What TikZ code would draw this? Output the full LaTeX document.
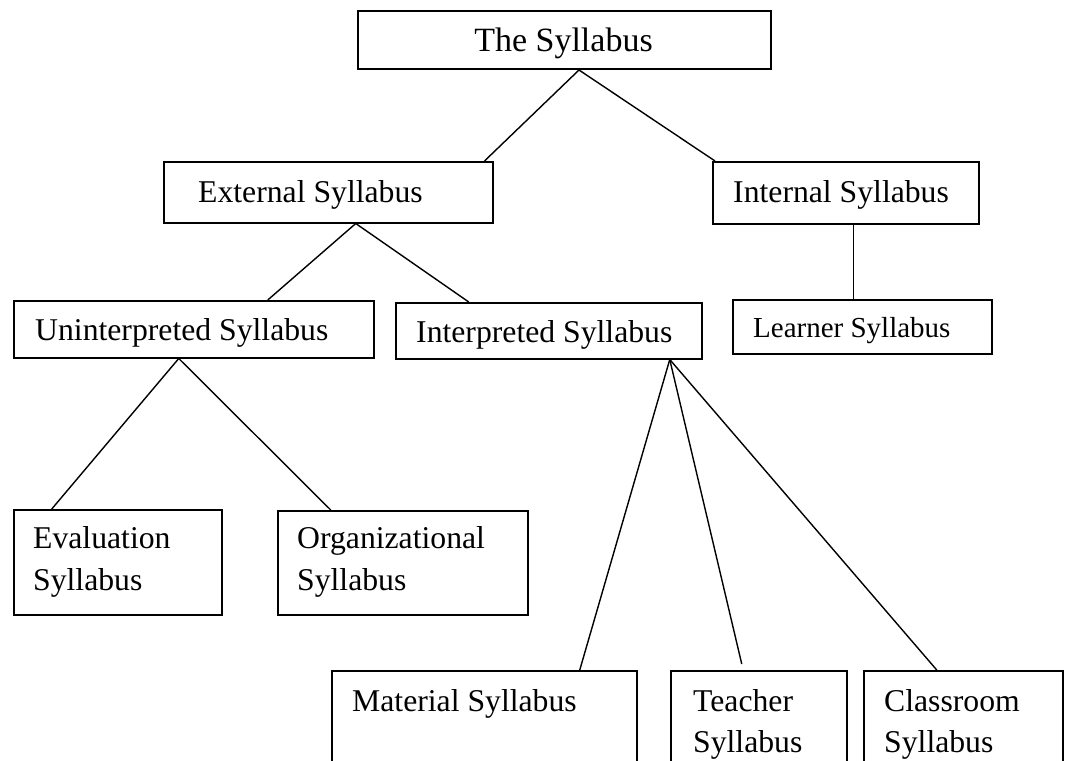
\documentclass[tikz,border=0pt]{standalone}
\usepackage{fontspec}
\setmainfont{Liberation Serif}
\begin{document}
\begin{tikzpicture}[x=1pt,y=-1pt,
  box/.style={draw, line width=1.5pt, rectangle, inner sep=0pt, anchor=north west},
  lbl/.style={inner sep=0pt, anchor=base west, font=\fontsize{31.7}{41}\selectfont},
  conn/.style={line width=1.4pt}]
\clip (0,0) rectangle (1065,760);
\fill[white] (0,0) rectangle (1065,760);
% boxes
\node[box, line width=2pt, minimum width=413pt, minimum height=58pt] (top) at (357,10) {};
\node[box, minimum width=329pt, minimum height=61pt] (ext) at (163,161) {};
\node[box, minimum width=266pt, minimum height=62pt] (int) at (712,161) {};
\node[box, minimum width=360pt, minimum height=57pt] (uni) at (13,300) {};
\node[box, minimum width=306pt, minimum height=56pt] (interp) at (395,302) {};
\node[box, minimum width=259pt, minimum height=54pt] (lrn) at (732,299) {};
\node[box, minimum width=208pt, minimum height=105pt] (eval) at (13,509) {};
\node[box, minimum width=250pt, minimum height=104pt] (org) at (277,510) {};
\node[box, minimum width=305pt, minimum height=110pt] (mat) at (331,670) {};
\node[box, minimum width=176pt, minimum height=110pt] (tea) at (670,670) {};
\node[box, minimum width=199pt, minimum height=110pt] (cls) at (863,670) {};
% texts
\node[inner sep=0pt, anchor=base, font=\fontsize{34}{40}\selectfont] (tTop) at (563.5,52) {The Syllabus};
\node[lbl] (tExt) at (198,202) {External Syllabus};
\node[lbl] (tInt) at (733,202) {Internal Syllabus};
\node[lbl] (tUni) at (35,340) {Uninterpreted Syllabus};
\node[lbl] (tInterp) at (416,342) {Interpreted Syllabus};
\node[lbl, font=\fontsize{29}{36}\selectfont] (tLrn) at (753,337) {Learner Syllabus};
\node[lbl, font=\fontsize{31.7}{42}\selectfont] (tEval) at (33,548) {\begin{tabular}[t]{@{}l@{}}Evaluation\\Syllabus\end{tabular}};
\node[lbl, font=\fontsize{31.7}{42}\selectfont] (tOrg) at (297,548) {\begin{tabular}[t]{@{}l@{}}Organizational\\Syllabus\end{tabular}};
\node[lbl] (tMat) at (352,711) {Material Syllabus};
\node[lbl] (tTea) at (693,711) {\begin{tabular}[t]{@{}l@{}}Teacher\\Syllabus\end{tabular}};
\node[lbl] (tCls) at (884,711) {\begin{tabular}[t]{@{}l@{}}Classroom\\Syllabus\end{tabular}};
% connectors
\draw[conn] ([xshift=14.5pt]top.south) -- ([xshift=-9pt]ext.north east);
\draw[conn] ([xshift=14.5pt]top.south) -- ([xshift=3pt]int.north west);
\draw[conn] ([xshift=27.5pt]ext.south) -- ([xshift=74pt]uni.north);
\draw[conn] ([xshift=27.5pt]ext.south) -- ([xshift=-80pt]interp.north);
\draw[conn] ([xshift=8pt]int.south) -- ([xshift=-8.5pt]lrn.north);
\draw[conn] ([xshift=-15pt]uni.south) -- ([xshift=-66pt]eval.north);
\draw[conn] ([xshift=-15pt]uni.south) -- ([xshift=-72pt]org.north);
\draw[conn] ([xshift=121pt]interp.south) -- ([xshift=95.5pt]mat.north);
\draw[conn] ([xshift=121pt]interp.south) -- ([xshift=-17pt,yshift=6pt]tea.north);
\draw[conn] ([xshift=121pt]interp.south) -- ([xshift=-26.5pt]cls.north);
\end{tikzpicture}
\end{document}
